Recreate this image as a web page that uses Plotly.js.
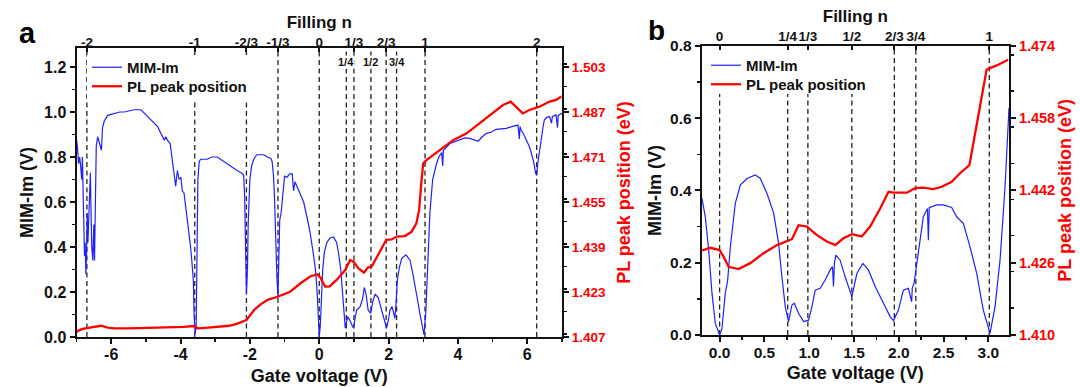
<!DOCTYPE html>
<html>
<head>
<meta charset="utf-8">
<script src="https://cdn.plot.ly/plotly-3.0.1.min.js"></script>
<style>html,body{margin:0;padding:0;background:#fff;}#chart{width:1080px;height:387px;}</style>
</head>
<body>
<div id="chart"></div>
<script>
// ---------------- Panel a data ----------------
const voltA_mim = [-7.00,-6.97,-6.94,-6.91,-6.88,-6.85,-6.83,-6.81,-6.79,-6.77,-6.75,-6.73,-6.71,-6.69,-6.67,-6.65,-6.62,-6.60,-6.58,-6.56,-6.53,-6.50,-6.48,-6.46,-6.43,-6.39,-6.35,-6.31,-6.28,-6.25,-6.20,-6.10,-5.91,-5.75,-5.62,-5.45,-5.34,-5.14,-4.95,-4.80,-4.66,-4.55,-4.47,-4.42,-4.38,-4.30,-4.25,-4.19,-4.14,-4.09,-4.04,-3.99,-3.95,-3.90,-3.85,-3.80,-3.75,-3.71,-3.67,-3.63,-3.61,-3.58,-3.55,-3.53,-3.50,-3.46,-3.42,-3.23,-3.10,-2.94,-2.80,-2.65,-2.50,-2.37,-2.25,-2.18,-2.15,-2.13,-2.10,-2.07,-2.05,-2.00,-1.95,-1.89,-1.80,-1.74,-1.60,-1.50,-1.40,-1.36,-1.32,-1.29,-1.26,-1.22,-1.19,-1.16,-1.14,-1.10,-1.07,-1.03,-1.00,-0.93,-0.85,-0.78,-0.74,-0.70,-0.64,-0.55,-0.45,-0.35,-0.26,-0.18,-0.11,-0.06,-0.02,0.00,0.03,0.06,0.10,0.15,0.22,0.31,0.41,0.50,0.56,0.62,0.66,0.70,0.75,0.82,0.88,0.95,0.99,1.04,1.08,1.18,1.25,1.30,1.35,1.41,1.48,1.55,1.61,1.70,1.78,1.85,1.94,2.00,2.04,2.10,2.14,2.18,2.21,2.25,2.31,2.38,2.50,2.62,2.70,2.76,2.84,2.90,2.96,3.02,3.07,3.12,3.19,3.27,3.38,3.45,3.53,3.56,3.58,3.77,4.05,4.20,4.34,4.50,4.58,4.70,4.82,4.95,5.10,5.25,5.39,5.55,5.73,5.77,5.79,5.82,5.90,5.97,6.05,6.11,6.18,6.24,6.27,6.30,6.35,6.40,6.45,6.49,6.55,6.64,6.70,6.72,6.83,6.87,6.89,7.00];
const mimA = [0.88,0.84,0.77,0.80,0.76,0.70,0.80,0.62,0.45,0.36,0.42,0.28,0.38,0.55,0.42,0.50,0.62,0.73,0.55,0.40,0.34,0.50,0.34,0.60,0.85,0.89,0.87,0.85,0.83,0.93,0.96,0.985,0.995,1.0,1.0,1.005,1.01,1.01,0.98,0.955,0.935,0.90,0.875,0.89,0.875,0.86,0.80,0.73,0.67,0.74,0.70,0.71,0.65,0.64,0.58,0.52,0.46,0.40,0.33,0.25,0.10,0.016,0.04,0.45,0.70,0.78,0.79,0.79,0.80,0.80,0.785,0.77,0.755,0.74,0.73,0.72,0.62,0.45,0.19,0.30,0.50,0.70,0.76,0.79,0.81,0.81,0.81,0.80,0.795,0.78,0.72,0.62,0.45,0.26,0.18,0.40,0.52,0.55,0.60,0.70,0.715,0.71,0.725,0.725,0.65,0.69,0.67,0.64,0.60,0.53,0.46,0.38,0.30,0.20,0.10,0.0,0.05,0.20,0.30,0.38,0.42,0.44,0.445,0.42,0.37,0.30,0.22,0.13,0.04,0.09,0.075,0.05,0.04,0.09,0.12,0.135,0.17,0.22,0.19,0.12,0.105,0.16,0.19,0.175,0.13,0.09,0.04,0.08,0.12,0.135,0.10,0.083,0.14,0.25,0.31,0.35,0.365,0.34,0.28,0.22,0.16,0.105,0.05,0.01,0.10,0.30,0.55,0.70,0.77,0.80,0.82,0.76,0.83,0.86,0.875,0.885,0.883,0.875,0.87,0.89,0.905,0.91,0.923,0.925,0.927,0.935,0.942,0.88,0.935,0.92,0.90,0.875,0.85,0.82,0.78,0.727,0.72,0.77,0.83,0.875,0.93,0.964,0.975,0.98,0.95,0.98,0.987,0.93,0.985,0.994];
const voltA_pl = [-7.0,-6.85,-6.75,-6.5,-6.29,-6.1,-5.9,-5.5,-5.0,-4.4,-3.9,-3.63,-3.5,-3.2,-2.94,-2.6,-2.4,-2.1,-1.88,-1.7,-1.49,-1.2,-0.84,-0.54,-0.26,-0.06,0.04,0.17,0.3,0.5,0.75,0.89,0.99,1.13,1.29,1.41,1.51,1.61,1.8,1.93,2.09,2.23,2.47,2.66,2.80,2.88,2.95,3.0,3.1,3.48,3.86,4.25,4.63,5.0,5.3,5.52,5.68,5.87,6.06,6.35,6.64,6.83,6.98];
const plA = [1.4089,1.4098,1.4101,1.4107,1.4110,1.4103,1.4101,1.4101,1.4102,1.4104,1.4106,1.4109,1.4101,1.4103,1.4106,1.4110,1.4116,1.4130,1.4166,1.4185,1.4202,1.4213,1.4231,1.4261,1.4285,1.4293,1.4280,1.4249,1.4250,1.4273,1.4308,1.4344,1.4338,1.4314,1.4299,1.4318,1.4320,1.4344,1.4385,1.4415,1.4417,1.4427,1.4429,1.4444,1.4474,1.4522,1.4628,1.4688,1.4700,1.4735,1.4770,1.4794,1.4830,1.4865,1.4895,1.4907,1.4889,1.4865,1.4877,1.4889,1.4907,1.4913,1.4925];
const fillingVoltA = [-6.70,-3.59,-2.10,-1.19,0.00,1.00,1.93,3.05,6.27];
const fillingLabelA = ['-2','-1','-2/3','-1/3','0','1/3','2/3','1','2'];
const innerVoltA = [0.78,1.49,2.23];
const innerLabelA = ['1/4','1/2','3/4'];
const gateTicksA = [-6,-4,-2,0,2,4,6];
const gateTickTextA = ['-6','-4','-2','0','2','4','6'];

// ---------------- Panel b data ----------------
const voltB_mim = [-0.197,-0.16,-0.122,-0.085,-0.048,0,0.026,0.063,0.09,0.12,0.175,0.231,0.305,0.398,0.454,0.528,0.603,0.658,0.695,0.733,0.77,0.807,0.833,0.881,0.937,0.993,1.030,1.067,1.123,1.178,1.234,1.26,1.271,1.282,1.297,1.345,1.401,1.476,1.532,1.599,1.661,1.736,1.829,1.903,1.94,1.996,2.051,2.107,2.144,2.150,2.17,2.218,2.274,2.32,2.33,2.34,2.423,2.497,2.590,2.646,2.72,2.795,2.87,2.943,3.018,3.074,3.130,3.186,3.223,3.23];
const mimB = [0.378,0.327,0.235,0.115,0.032,0.0,0.018,0.115,0.152,0.244,0.364,0.415,0.433,0.443,0.433,0.392,0.337,0.254,0.161,0.078,0.037,0.083,0.088,0.06,0.037,0.041,0.078,0.124,0.129,0.152,0.18,0.189,0.134,0.20,0.221,0.207,0.161,0.106,0.17,0.198,0.18,0.134,0.088,0.051,0.04,0.069,0.124,0.129,0.092,0.13,0.143,0.235,0.327,0.35,0.262,0.352,0.36,0.36,0.353,0.327,0.309,0.244,0.17,0.069,0.005,0.078,0.207,0.41,0.595,0.628];
const voltB_pl = [-0.197,-0.104,0,0.045,0.1,0.212,0.342,0.491,0.64,0.751,0.807,0.881,0.974,1.086,1.197,1.29,1.383,1.476,1.587,1.68,1.792,1.885,1.94,2.09,2.182,2.274,2.386,2.479,2.59,2.683,2.788,2.98,3.01,3.11,3.22];
const plB = [1.4287,1.4293,1.4288,1.4273,1.4251,1.4246,1.4259,1.4281,1.4299,1.4307,1.4312,1.4343,1.4340,1.4321,1.4307,1.4299,1.4314,1.4323,1.4318,1.4340,1.4380,1.4417,1.4415,1.4415,1.4425,1.4426,1.4423,1.4428,1.4439,1.4458,1.4476,1.4687,1.4690,1.4698,1.4709];
const fillingVoltB = [0.00,0.76,0.985,1.476,1.95,2.19,3.01];
const fillingLabelB = ['0','1/4','1/3','1/2','2/3','3/4','1'];

// ---------------- Styling ----------------
const FONT = 'Liberation Sans, Arial, sans-serif';
const BLUE = '#1f1fff', RED = '#ff0000';
const f = (size, color) => ({family: FONT, size: size, color: color || '#111', weight: 'bold'});
const W = 1080, H = 387;
// pixel frames of the two panels
const A = {l: 76.5, r: 562, t: 48, b: 337};
const B = {l: 701.7, r: 1009, t: 45.8, b: 335};
const dx = p => [p.l / W, p.r / W];
const dy = p => [1 - p.b / H, 1 - p.t / H];

const scaleA = 0.08, baseA = 1.407, yTopA = (A.b - A.t) / 225;
const scaleB = 0.08, baseB = 1.410;

const traces = [
  {x: voltA_mim, y: mimA, xaxis: 'x', yaxis: 'y', mode: 'lines', name: 'MIM-Im', legend: 'legend',
   line: {color: BLUE, width: 1.2}},
  {x: voltA_pl, y: plA, xaxis: 'x2', yaxis: 'y2', mode: 'lines', name: 'PL peak position', legend: 'legend2',
   line: {color: RED, width: 2.3}},
  {x: voltB_mim, y: mimB, xaxis: 'x3', yaxis: 'y3', mode: 'lines', name: 'MIM-Im', legend: 'legend3',
   line: {color: BLUE, width: 1.2}},
  {x: voltB_pl, y: plB, xaxis: 'x4', yaxis: 'y4', mode: 'lines', name: 'PL peak position', legend: 'legend4',
   line: {color: RED, width: 2.3}}
];

const axBase = {showgrid: false, zeroline: false, showline: true, linecolor: '#111', linewidth: 2,
  ticks: 'outside', ticklen: 5, tickwidth: 2, tickcolor: '#111', tickangle: 0, fixedrange: true};
const minor = (dt) => ({dtick: dt, ticks: 'outside', ticklen: 3, tickwidth: 1.5, tickcolor: '#111'});

const dash = {color: '#222', width: 1.3, dash: '5px,3.5px'};
const shapes = [];
fillingVoltA.concat(innerVoltA).forEach(v => shapes.push({type: 'line', xref: 'x', yref: 'y domain',
  x0: v, x1: v, y0: 0, y1: 1, layer: 'below', line: dash}));
fillingVoltB.forEach(v => shapes.push({type: 'line', xref: 'x3', yref: 'y3 domain',
  x0: v, x1: v, y0: 0, y1: 1, layer: 'below', line: dash}));
// white backing behind each legend block (hides the dashed guides there)
const legendBack = (x0, x1, y0, y1) => ({type: 'rect', xref: 'paper', yref: 'paper', layer: 'below',
  x0: x0 / W, x1: x1 / W, y0: 1 - y1 / H, y1: 1 - y0 / H, fillcolor: '#fff', line: {width: 0}});
shapes.push(legendBack(87, 258, 55, 99));
shapes.push(legendBack(704, 880, 49, 94));

const annotations = innerVoltA.map((v, i) => ({xref: 'x', yref: 'paper', x: v, y: 1 - 62 / H,
  xanchor: 'center', yanchor: 'middle',
  text: innerLabelA[i], showarrow: false, font: f(11), bgcolor: '#fff', borderpad: 0}));
annotations.push({xref: 'paper', yref: 'paper', x: 27.5 / W, y: 1 - 33 / H, xanchor: 'center', yanchor: 'middle',
  text: 'a', showarrow: false, font: f(29, '#000')});
annotations.push({xref: 'paper', yref: 'paper', x: 656 / W, y: 1 - 30 / H, xanchor: 'center', yanchor: 'middle',
  text: 'b', showarrow: false, font: f(28, '#000')});

const leg = (xpx, ypx) => ({x: xpx / W, y: 1 - ypx / H, xanchor: 'left', yanchor: 'top',
  bgcolor: 'rgba(0,0,0,0)', borderwidth: 0, font: f(15)});

const layout = {
  width: W, height: H, margin: {l: 0, r: 0, t: 0, b: 0},
  paper_bgcolor: '#fff', plot_bgcolor: '#fff', font: {family: FONT, color: '#111'},
  showlegend: true,
  // ---- panel a
  xaxis: Object.assign({}, axBase, {domain: dx(A), anchor: 'y', range: [-7, 7],
    tickmode: 'array', tickvals: gateTicksA, ticktext: gateTickTextA, tickfont: f(16), ticklabelstandoff: -3,
    minor: minor(1), title: {text: 'Gate voltage (V)', font: f(18), standoff: 7}}),
  yaxis: Object.assign({}, axBase, {domain: dy(A), anchor: 'x', range: [0, yTopA],
    tickmode: 'linear', tick0: 0, dtick: 0.2, tickformat: '.1f', tickfont: f(16),
    minor: minor(0.1), title: {text: 'MIM-Im (V)', font: f(18), standoff: 6}}),
  xaxis2: Object.assign({}, axBase, {overlaying: 'x', side: 'top', anchor: 'y2', range: [-7, 7],
    tickmode: 'array', tickvals: fillingVoltA, ticktext: fillingLabelA, ticks: 'inside', ticklen: 4,
    ticklabelstandoff: -6, tickfont: f(13.5), title: {text: 'Filling n', font: f(17), standoff: 2}}),
  yaxis2: Object.assign({}, axBase, {overlaying: 'y', side: 'right', anchor: 'x2',
    range: [baseA, baseA + yTopA * scaleA], tickmode: 'linear', tick0: baseA, dtick: 0.016,
    tickformat: '.3f', tickfont: f(13.5, RED), minor: minor(0.008),
    title: {text: 'PL peak position (eV)', font: f(18, RED), standoff: 12}}),
  // ---- panel b
  xaxis3: Object.assign({}, axBase, {domain: dx(B), anchor: 'y3', range: [-0.2, 3.23],
    tickmode: 'linear', tick0: 0, dtick: 0.5, tickformat: '.1f', tickfont: f(15.5), ticklabelstandoff: -3,
    minor: minor(0.25), title: {text: 'Gate voltage (V)', font: f(18), standoff: 7}}),
  yaxis3: Object.assign({}, axBase, {domain: dy(B), anchor: 'x3', range: [0, 0.8],
    tickmode: 'linear', tick0: 0, dtick: 0.2, tickformat: '.1f', tickfont: f(15.5),
    minor: minor(0.1), title: {text: 'MIM-Im (V)', font: f(18), standoff: 4}}),
  xaxis4: Object.assign({}, axBase, {overlaying: 'x3', side: 'top', anchor: 'y4', range: [-0.2, 3.23],
    tickmode: 'array', tickvals: fillingVoltB, ticktext: fillingLabelB, ticks: 'inside', ticklen: 4,
    ticklabelstandoff: -3, tickfont: f(13.5), title: {text: 'Filling n', font: f(17), standoff: 2}}),
  yaxis4: Object.assign({}, axBase, {overlaying: 'y3', side: 'right', anchor: 'x4',
    range: [baseB, baseB + 0.8 * scaleB], tickmode: 'linear', tick0: baseB, dtick: 0.016,
    tickformat: '.3f', tickfont: f(14.5, RED), minor: minor(0.008),
    title: {text: 'PL peak position (eV)', font: f(18, RED), standoff: 2}}),
  legend: leg(87, 51),
  legend2: leg(87, 70),
  legend3: leg(706, 49),
  legend4: leg(706, 68),
  shapes: shapes,
  annotations: annotations
};

Plotly.newPlot('chart', traces, layout, {staticPlot: true, displayModeBar: false});
</script>
</body>
</html>
